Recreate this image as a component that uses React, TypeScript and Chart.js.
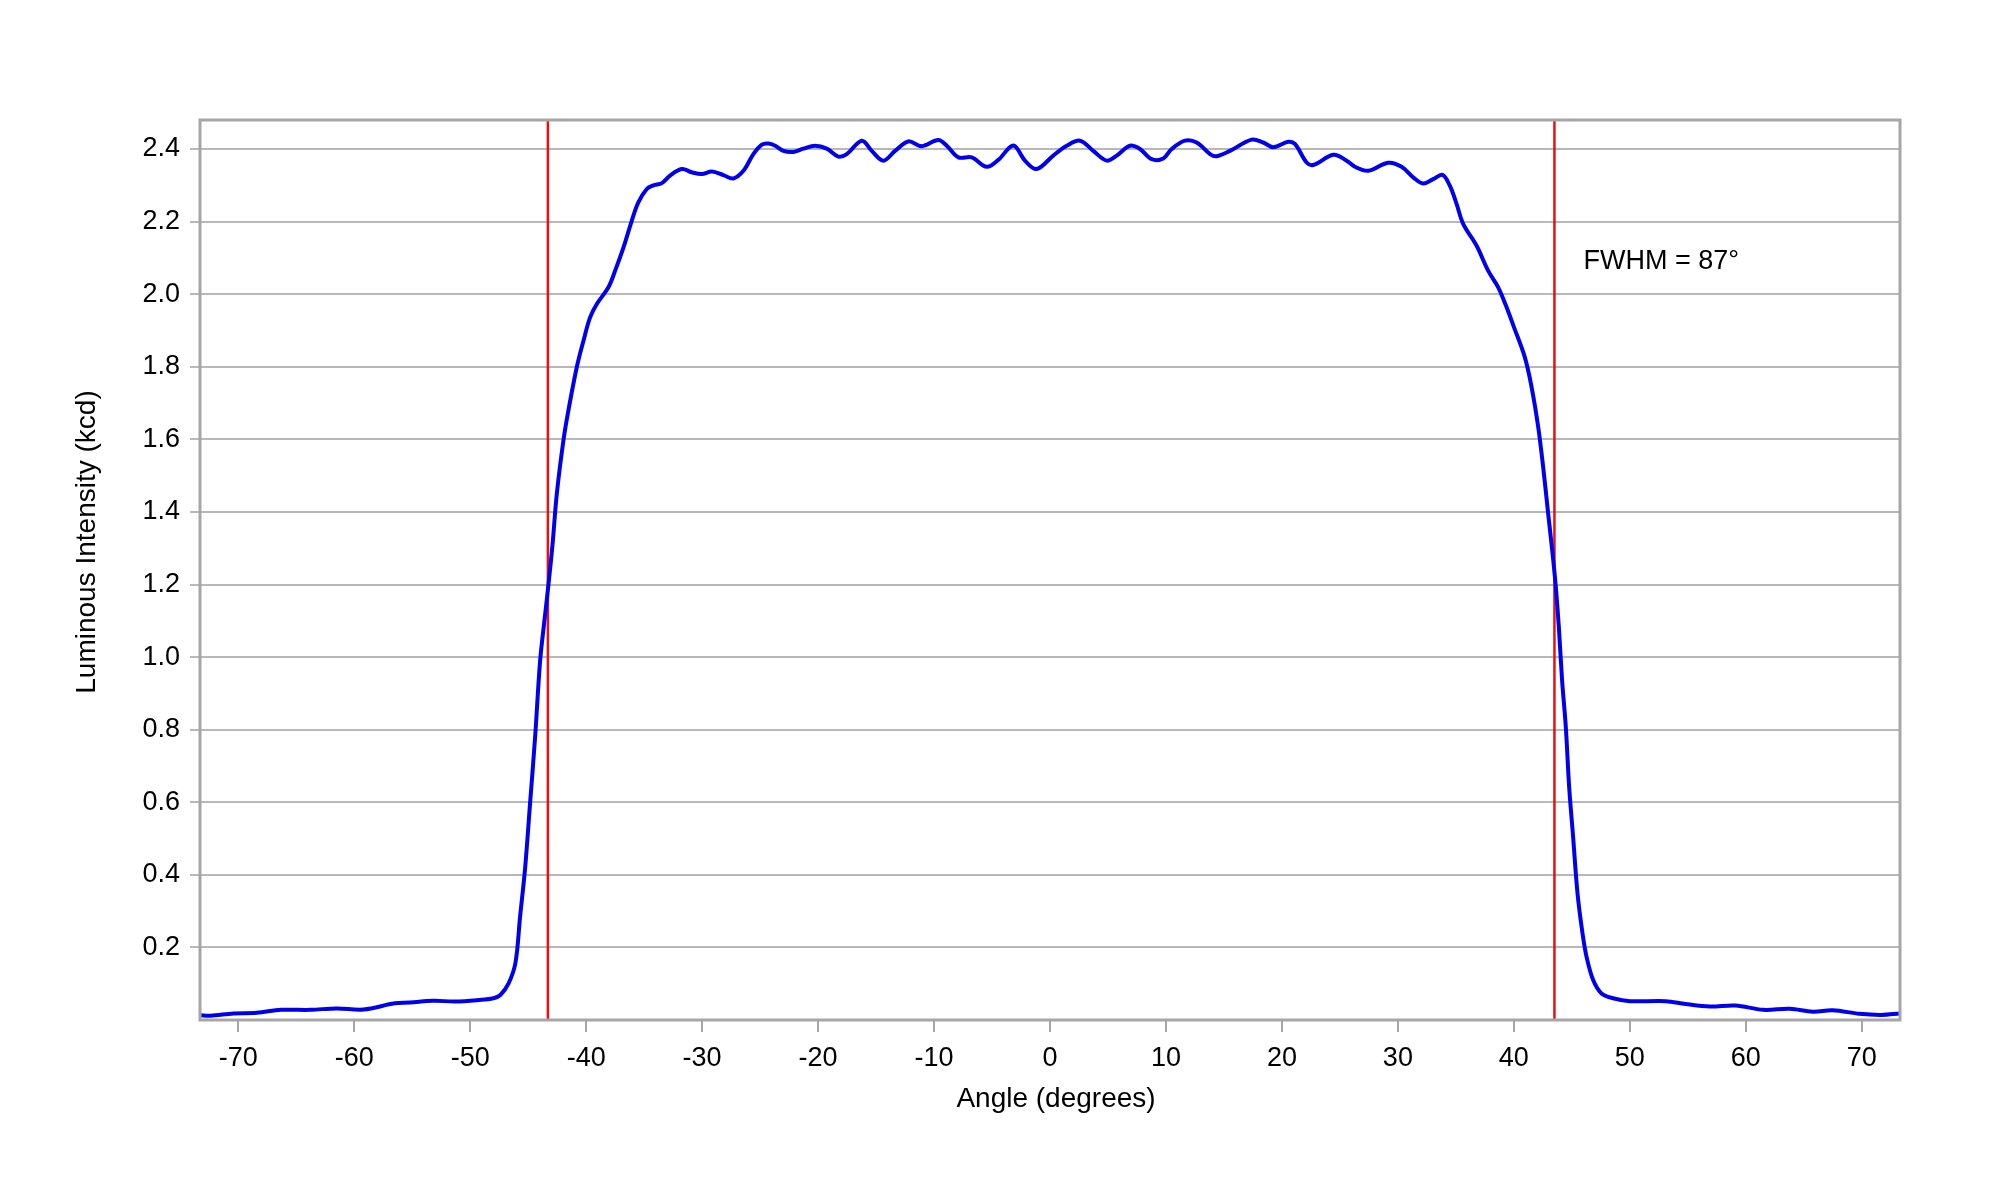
import React, { useEffect, useRef } from 'react';
import { Chart, registerables } from 'chart.js';

Chart.register(...registerables);

const angles = [
  -73.3, -72.4, -70.4, -68.4, -66.3, -63.8, -61.5, -59.2, -56.5, -55.2, -53.2, -51.3, -49.3, -48.0,
  -47.4, -46.7, -46.1, -45.7, -45.26, -44.83, -44.4, -43.97, -43.6, -43.25, -42.9, -42.53, -41.96,
  -41.53, -40.8, -40.23, -39.66, -39.08, -38.08, -37.5, -36.78, -36.06, -35.5, -34.77, -34.2, -33.47,
  -32.76, -31.75, -30.9, -30.03, -29.16, -28.16, -27.3, -26.44, -25.58, -24.85, -24.28, -23.7, -22.99,
  -22.13, -21.27, -20.26, -19.25, -18.25, -17.53, -16.23, -15.37, -14.37, -13.36, -12.22, -11.06,
  -9.63, -8.9, -7.9, -6.75, -5.46, -4.46, -3.16, -2.16, -1.15, 0.28, 1.44, 2.59, 3.73, 4.89, 5.75,
  6.9, 7.76, 8.77, 9.77, 10.49, 11.64, 12.65, 13.8, 14.37, 15.52, 17.39, 18.39, 19.25, 20.54, 21.12,
  22.13, 22.7, 24.44, 25.58, 26.29, 27.44, 29.16, 30.32, 31.32, 32.18, 33.04, 33.85, 34.48, 35.06,
  35.63, 36.78, 37.78, 38.65, 39.3, 40.0, 40.95, 41.53, 42.1, 42.53, 42.96, 43.34, 43.62, 43.88,
  44.16, 44.48, 44.77, 45.11, 45.49, 45.92, 46.27, 46.84, 47.56, 48.56, 50.0, 53.1, 54.8, 56.9,
  59.1, 61.5, 63.8, 65.8, 67.5, 69.8, 71.7, 73.3,
];

const intensity = [
  0.013, 0.012, 0.018, 0.02, 0.028, 0.028, 0.032, 0.029, 0.046, 0.048, 0.053, 0.051, 0.055, 0.06,
  0.069, 0.1, 0.157, 0.284, 0.42, 0.6, 0.78, 0.99, 1.1, 1.2, 1.31, 1.45, 1.597,
  1.68, 1.8, 1.872, 1.936, 1.973, 2.019, 2.065, 2.129, 2.203, 2.253, 2.29, 2.3, 2.306,
  2.327, 2.345, 2.336, 2.331, 2.338, 2.328, 2.319, 2.34, 2.386, 2.412, 2.415, 2.409, 2.395,
  2.392, 2.401, 2.409, 2.401, 2.379, 2.386, 2.423, 2.395, 2.368, 2.395, 2.421, 2.408,
  2.425, 2.409, 2.377, 2.377, 2.351, 2.37, 2.41, 2.368, 2.345, 2.382, 2.409, 2.423, 2.395, 2.368, 2.382,
  2.409, 2.4, 2.372, 2.374, 2.4, 2.423, 2.418, 2.386, 2.38, 2.395, 2.426, 2.418, 2.405, 2.42, 2.414,
  2.363, 2.356, 2.384, 2.368, 2.351, 2.34, 2.362, 2.351, 2.322, 2.305, 2.317, 2.329, 2.299, 2.249,
  2.194, 2.134, 2.065, 2.019, 1.97, 1.91, 1.826, 1.744, 1.634, 1.523, 1.395, 1.285, 1.193, 1.083,
  0.936, 0.808, 0.642, 0.505, 0.349, 0.239, 0.174, 0.11, 0.073, 0.06, 0.052, 0.052, 0.044, 0.037,
  0.04, 0.028, 0.031, 0.023, 0.027, 0.017, 0.014, 0.018,
];

const halfMaxAngles = [-43.3, 43.5];
const xTicks = [-70, -60, -50, -40, -30, -20, -10, 0, 10, 20, 30, 40, 50, 60, 70];
const yTicks = [0.2, 0.4, 0.6, 0.8, 1.0, 1.2, 1.4, 1.6, 1.8, 2.0, 2.2, 2.4];
const xRange = [-73.3, 73.3];
const yRange = [0, 2.48];
const xTitle = 'Angle (degrees)';
const yTitle = 'Luminous Intensity (kcd)';
const noteText = 'FWHM = 87°';
const notePos = { x: 46.0, y: 2.09 };

const FONT = "'Liberation Sans', Arial, sans-serif";

const framePlugin = {
  id: 'framePlugin',
  afterDatasetsDraw(chart: any) {
    const { ctx, chartArea } = chart;
    ctx.save();
    ctx.strokeStyle = '#a6a6a6';
    ctx.lineWidth = 3;
    ctx.strokeRect(chartArea.left, chartArea.top, chartArea.right - chartArea.left, chartArea.bottom - chartArea.top);
    ctx.restore();
  },
  afterDraw(chart: any) {
    const { ctx, chartArea, scales } = chart;
    ctx.save();
    ctx.fillStyle = '#000';
    ctx.font = `28px ${FONT}`;
    ctx.textAlign = 'center';
    ctx.textBaseline = 'middle';
    ctx.fillText(xTitle, (chartArea.left + chartArea.right) / 2 + 6, 1099);
    ctx.save();
    ctx.translate(87, (chartArea.top + chartArea.bottom) / 2 - 28);
    ctx.rotate(-Math.PI / 2);
    ctx.fillText(yTitle, 0, 0);
    ctx.restore();
    ctx.font = `27px ${FONT}`;
    ctx.textAlign = 'left';
    ctx.fillText(noteText, scales.x.getPixelForValue(notePos.x), scales.y.getPixelForValue(notePos.y));
    ctx.restore();
  },
};

export default function App() {
  const ref = useRef<HTMLCanvasElement | null>(null);
  useEffect(() => {
    if (!ref.current) return;
    const curve = angles.map((a, i) => ({ x: a, y: intensity[i] }));
    const chart = new Chart(ref.current, {
      type: 'line',
      data: {
        datasets: [
          {
            data: curve,
            borderColor: '#0000ee',
            borderWidth: 4,
            pointRadius: 0,
            tension: 0.35,
            fill: false,
          },
          ...halfMaxAngles.map((a) => ({
            data: [
              { x: a, y: yRange[0] },
              { x: a, y: yRange[1] },
            ],
            borderColor: '#e81010',
            borderWidth: 2.5,
            pointRadius: 0,
            fill: false,
          })),
        ],
      },
      options: {
        animation: false,
        responsive: false,
        devicePixelRatio: 1,
        layout: { padding: { top: 120, right: 100, left: 0, bottom: 0 } },
        plugins: { legend: { display: false }, tooltip: { enabled: false } },
        scales: {
          x: {
            type: 'linear',
            min: xRange[0],
            max: xRange[1],
            afterBuildTicks: (s: any) => {
              s.ticks = xTicks.map((v) => ({ value: v }));
            },
            afterFit: (s: any) => {
              s.height = 180;
            },
            ticks: {
              autoSkip: false,
              maxRotation: 0,
              padding: 10,
              color: '#000',
              font: { family: FONT, size: 27 },
              callback: (v: any) => String(v),
            },
            grid: {
              drawOnChartArea: false,
              drawTicks: true,
              tickLength: 12,
              color: '#a6a6a6',
              lineWidth: 2,
            },
            border: { display: false },
          },
          y: {
            type: 'linear',
            min: yRange[0],
            max: yRange[1],
            afterBuildTicks: (s: any) => {
              s.ticks = yTicks.map((v) => ({ value: v }));
            },
            afterFit: (s: any) => {
              s.width = 200;
            },
            ticks: {
              autoSkip: false,
              padding: 10,
              color: '#000',
              font: { family: FONT, size: 27 },
              callback: (v: any) => Number(v).toFixed(1),
            },
            grid: {
              drawTicks: true,
              tickLength: 10,
              color: '#b8b8b8',
              lineWidth: 2,
            },
            border: { display: false },
          },
        },
      },
      plugins: [framePlugin],
    } as any);
    return () => chart.destroy();
  }, []);
  return (
    <div style={{ position: 'absolute', left: 0, top: 0, width: 2000, height: 1200, background: '#fff' }}>
      <canvas ref={ref} width={2000} height={1200} style={{ width: 2000, height: 1200, display: 'block' }} />
    </div>
  );
}
